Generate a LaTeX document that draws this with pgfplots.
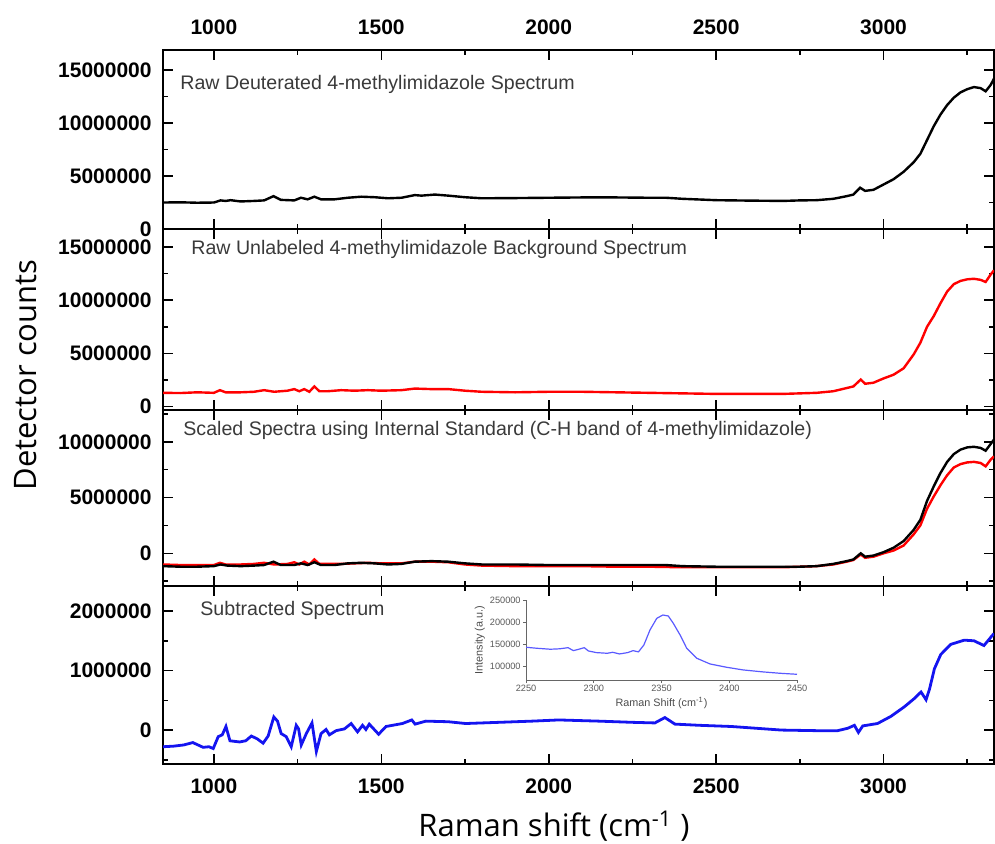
\documentclass[border=0pt]{standalone}
\usepackage{fontspec}
\setmainfont{Liberation Sans}
\newfontfamily\labelfont{Open Sans}
\usepackage{pgfplots}
\pgfplotsset{compat=1.18}

\definecolor{titlegray}{HTML}{3A3A3A}
\definecolor{insetblue}{HTML}{5A5AFF}
\definecolor{spblue}{HTML}{1414F0}

\pgfplotsset{
  panel/.style={
    scale only axis, width=415.5pt, anchor=north west,
    xmin=848, xmax=3330,
    xtick={1000,1500,2000,2500,3000},
    xticklabels={1000,1500,2000,2500,3000},
    minor xtick={1250,1750,2250,2750,3250},
    tick align=inside,
    major tick length=5pt, minor tick length=2.5pt,
    major tick style={black, line width=0.8pt},
    minor tick style={black, line width=0.8pt},
    axis line style={line width=1pt},
    tick label style={font=\bfseries\fontsize{10.5}{12}\selectfont},
    yticklabel style={inner sep=0pt, xshift=-5.5pt},
    scaled y ticks=false,
  },
}

\begin{document}
\begin{tikzpicture}
\useasboundingbox (0pt,0pt) rectangle (497.5pt,-422pt);

% panel 1: deuterated
\begin{axis}[panel, at={(81.5pt,-25pt)}, height=89.5pt,
  ymin=0, ymax=16900000,
  ytick={0,5000000,10000000,15000000},
  yticklabels={0,5000000,10000000,15000000},
  minor ytick={2500000,7500000,12500000},
  xticklabel pos=upper,
  xticklabel style={yshift=4pt},
]
\addplot[black, line width=1.2pt] coordinates {
(848,2500000) (900,2520000) (950,2480000) (1000,2500000) (1020,2700000)
(1035,2650000) (1050,2720000) (1080,2600000) (1120,2650000) (1150,2700000)
(1178,3100000) (1200,2750000) (1240,2700000) (1260,2950000) (1280,2800000)
(1300,3050000) (1320,2800000) (1360,2800000) (1400,2950000) (1440,3050000)
(1480,3000000) (1520,2900000) (1560,2950000) (1600,3200000) (1620,3150000)
(1660,3250000) (1700,3150000) (1750,3000000) (1800,2900000) (1900,2920000)
(2000,2950000) (2100,2980000) (2200,2980000) (2300,2950000) (2350,2950000)
(2400,2850000) (2500,2720000) (2600,2680000) (2700,2650000) (2750,2700000)
(2800,2720000) (2850,2850000) (2890,3100000) (2910,3250000) (2930,3900000)
(2945,3600000) (2970,3700000) (3000,4200000) (3030,4700000) (3060,5400000)
(3090,6300000) (3110,7100000) (3130,8400000) (3150,9700000) (3170,10800000)
(3190,11700000) (3210,12400000) (3230,12900000) (3250,13200000) (3270,13400000)
(3290,13300000) (3305,13000000) (3320,13600000) (3330,14200000)
};
\end{axis}

% panel 2: unlabeled background
\begin{axis}[panel, at={(81.5pt,-114.5pt)}, height=90.5pt,
  ymin=-310000, ymax=16670000,
  ytick={0,5000000,10000000,15000000},
  yticklabels={0,5000000,10000000,15000000},
  minor ytick={2500000,7500000,12500000},
  xticklabels={},
]
\addplot[red, line width=1.2pt] coordinates {
(848,1300000) (900,1280000) (950,1350000) (1000,1300000) (1018,1550000)
(1035,1350000) (1080,1350000) (1120,1400000) (1150,1550000) (1180,1400000)
(1220,1500000) (1240,1650000) (1255,1450000) (1270,1650000) (1285,1400000)
(1300,1900000) (1315,1450000) (1340,1450000) (1380,1550000) (1420,1500000)
(1460,1550000) (1500,1500000) (1560,1550000) (1600,1700000) (1650,1650000)
(1700,1650000) (1750,1500000) (1800,1400000) (1900,1350000) (2000,1400000)
(2100,1400000) (2200,1350000) (2300,1300000) (2400,1250000) (2500,1200000)
(2600,1200000) (2700,1200000) (2750,1250000) (2800,1300000) (2850,1450000)
(2890,1750000) (2910,1900000) (2932,2550000) (2945,2150000) (2970,2250000)
(3000,2650000) (3030,3000000) (3060,3600000) (3090,4900000) (3110,6000000)
(3130,7500000) (3150,8500000) (3170,9700000) (3190,10800000) (3210,11500000)
(3230,11800000) (3250,11950000) (3270,12000000) (3290,11900000) (3305,11700000)
(3320,12400000) (3330,12800000)
};
\end{axis}

% panel 3: scaled spectra
\begin{axis}[panel, at={(81.5pt,-205pt)}, height=88pt,
  ymin=-2930000, ymax=12850000,
  ytick={0,5000000,10000000},
  yticklabels={0,5000000,10000000},
  minor ytick={-2500000,2500000,7500000,12500000},
  xticklabels={},
]
\addplot[red, line width=1.2pt] coordinates {
(848,-1000000) (900,-1050000) (950,-1050000) (1000,-1050000) (1018,-850000)
(1035,-1000000) (1080,-1000000) (1120,-950000) (1150,-850000) (1180,-1000000)
(1220,-950000) (1240,-800000) (1255,-1000000) (1270,-750000) (1285,-1000000)
(1300,-550000) (1315,-950000) (1340,-950000) (1380,-950000) (1420,-900000)
(1460,-850000) (1500,-900000) (1560,-900000) (1600,-750000) (1650,-750000)
(1700,-800000) (1750,-1000000) (1800,-1100000) (1900,-1150000) (2000,-1150000)
(2100,-1150000) (2200,-1200000) (2300,-1200000) (2400,-1250000) (2500,-1250000)
(2600,-1250000) (2700,-1250000) (2750,-1200000) (2800,-1150000) (2850,-1000000)
(2890,-750000) (2910,-600000) (2932,-100000) (2945,-400000) (2970,-300000)
(3000,0) (3030,250000) (3060,700000) (3090,1700000) (3110,2500000)
(3130,4000000) (3150,5100000) (3170,6100000) (3190,7000000) (3210,7700000)
(3230,8000000) (3250,8150000) (3270,8200000) (3290,8100000) (3305,7800000)
(3320,8400000) (3330,8700000)
};
\addplot[black, line width=1.2pt] coordinates {
(848,-1150000) (900,-1200000) (950,-1200000) (1000,-1150000) (1020,-1000000)
(1040,-1100000) (1080,-1150000) (1120,-1100000) (1150,-1050000) (1178,-750000)
(1200,-1050000) (1240,-1050000) (1260,-900000) (1280,-1050000) (1300,-800000)
(1320,-1050000) (1360,-1050000) (1400,-900000) (1440,-850000) (1480,-900000)
(1520,-1000000) (1560,-950000) (1600,-750000) (1650,-700000) (1700,-750000)
(1750,-900000) (1800,-1000000) (1900,-1000000) (2000,-1050000) (2100,-1050000)
(2200,-1050000) (2300,-1050000) (2350,-1050000) (2400,-1150000) (2500,-1200000)
(2600,-1200000) (2700,-1200000) (2750,-1200000) (2800,-1150000) (2850,-950000)
(2890,-700000) (2910,-550000) (2932,0) (2945,-300000) (2970,-200000)
(3000,100000) (3030,500000) (3060,1100000) (3090,2100000) (3110,3000000)
(3130,4700000) (3150,6000000) (3170,7200000) (3190,8200000) (3210,8900000)
(3230,9300000) (3250,9500000) (3270,9550000) (3290,9450000) (3305,9200000)
(3320,9800000) (3330,10200000)
};
\end{axis}

% panel 4: subtracted
\begin{axis}[panel, at={(81.5pt,-293pt)}, height=89pt,
  ymin=-570000, ymax=2420000,
  ytick={0,1000000,2000000},
  yticklabels={0,1000000,2000000},
  minor ytick={-500000,500000,1500000},
  xticklabel style={yshift=-4pt},
]
\addplot[spblue, line width=1.4pt] coordinates {
(848,-280000) (880,-270000) (910,-250000) (937,-210000) (968,-290000)
(985,-280000) (998,-310000) (1013,-110000) (1025,-80000) (1036,60000)
(1048,-180000) (1077,-200000) (1095,-180000) (1112,-100000) (1130,-150000)
(1147,-220000) (1162,-100000) (1179,220000) (1190,150000) (1201,-60000)
(1216,-110000) (1231,-280000) (1246,80000) (1253,20000) (1261,-250000)
(1276,-60000) (1293,120000) (1306,-360000) (1320,-60000) (1335,10000)
(1345,-80000) (1365,-10000) (1390,20000) (1410,110000) (1429,-30000)
(1444,80000) (1454,10000) (1464,100000) (1492,-70000) (1514,60000)
(1563,110000) (1591,170000) (1601,100000) (1633,150000) (1700,140000)
(1752,110000) (1851,130000) (1950,150000) (2030,170000) (2150,150000)
(2250,130000) (2317,120000) (2347,210000) (2377,100000) (2450,80000)
(2546,60000) (2695,0) (2800,-10000) (2863,-10000) (2893,30000)
(2913,80000) (2925,-40000) (2938,70000) (2982,110000) (3022,230000)
(3062,390000) (3092,530000) (3112,640000) (3127,510000) (3137,680000)
(3152,1030000) (3171,1270000) (3201,1440000) (3241,1510000) (3270,1500000)
(3300,1420000) (3325,1590000) (3330,1620000)
};
\end{axis}

% inset
\begin{axis}[at={(263pt,-300pt)}, anchor=north west, scale only axis,
  width=135.5pt, height=40pt,
  xmin=2250, xmax=2450, ymin=68000, ymax=250000,
  axis x line=bottom, axis y line=left,
  axis line style={-, black!60, line width=0.4pt},
  xtick={2250,2300,2350,2400,2450},
  xticklabels={2250,2300,2350,2400,2450},
  ytick={100000,150000,200000,250000},
  yticklabels={100000,150000,200000,250000},
  tick align=outside, major tick length=1.5pt,
  major tick style={black!60, line width=0.3pt},
  tick label style={font=\fontsize{4.6}{5}\selectfont, text=black!65, inner sep=1pt},
  scaled y ticks=false,
  xlabel={Raman Shift (cm\textsuperscript{-1})},
  ylabel={Intensity (a.u.)},
  label style={font=\fontsize{5.4}{6}\selectfont, text=black!70},
  xlabel style={yshift=2pt},
  ylabel style={yshift=-2pt},
]
\addplot[insetblue, line width=0.6pt] coordinates {
(2250,142500) (2258,140200) (2268,138000) (2275,139000) (2281,141600)
(2285,134800) (2289,138000) (2293,141600) (2296,134100) (2302,130300)
(2310,128800) (2314,131000) (2319,127300) (2325,130300) (2329,134800)
(2333,132000) (2337,147700) (2341.5,181800) (2346.5,208300) (2351,215900)
(2355,213600) (2358.7,197000) (2363.7,170500) (2368.6,140200) (2376,117500)
(2385.8,104500) (2398,97000) (2410,91000) (2425,86400) (2437.5,83300)
(2450,81000)
};
\end{axis}

% panel titles
\begin{scope}[every node/.style={anchor=base west, inner sep=0pt, text=titlegray,
    font=\fontsize{9.8}{11}\selectfont}]
\node at (90pt,-44.7pt) {Raw Deuterated 4-methylimidazole Spectrum};
\node at (95.5pt,-127.2pt) {Raw Unlabeled 4-methylimidazole Background Spectrum};
\node at (91.5pt,-217.8pt) {Scaled Spectra using Internal Standard (C-H band of 4-methylimidazole)};
\node at (100pt,-307.8pt) {Subtracted Spectrum};
\end{scope}

% shared axis labels
\node[anchor=base, inner sep=0pt, font=\labelfont\fontsize{15.5}{17}\selectfont]
  at (277pt,-418.3pt) {Raman shift (cm\textsuperscript{-1} )};
\node[anchor=base, rotate=90, inner sep=0pt, font=\labelfont\fontsize{15.5}{17}\selectfont]
  at (18.3pt,-187.5pt) {Detector counts};
\end{tikzpicture}
\end{document}
